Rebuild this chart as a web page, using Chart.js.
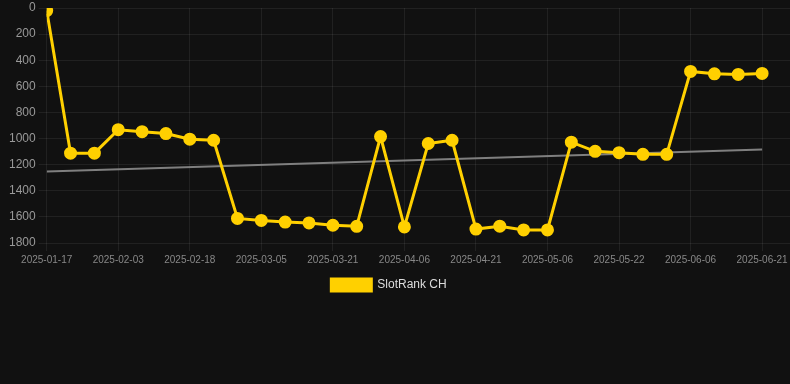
<!DOCTYPE html>
<html><head><meta charset="utf-8">
<script src="https://cdn.jsdelivr.net/npm/chart.js@4"></script>
<style>html,body{margin:0;padding:0;background:#111111;}#wrap{width:790px;height:384px;position:relative;}</style>
</head><body><div id="wrap"><canvas id="c"></canvas></div>
<script>
const dates = ["2025-01-17","2025-01-22","2025-01-28","2025-02-03","2025-02-08","2025-02-13","2025-02-18","2025-02-23","2025-02-28","2025-03-05","2025-03-10","2025-03-16","2025-03-21","2025-03-26","2025-04-01","2025-04-06","2025-04-11","2025-04-16","2025-04-21","2025-04-26","2025-05-01","2025-05-06","2025-05-11","2025-05-17","2025-05-22","2025-05-27","2025-06-01","2025-06-06","2025-06-11","2025-06-16","2025-06-21"];
const ranks = [20,1112,1112,932,947,962,1005,1013,1612,1627,1640,1646,1664,1672,985,1677,1038,1013,1693,1671,1700,1700,1028,1098,1108,1121,1121,486,504,509,501];
const trendEnds = [1253,1084];
const yTicks = [0,200,400,600,800,1000,1200,1400,1600,1800];

const rankPts = ranks.map((v,i)=>({x:i,y:v}));
const trendPts = [{x:0,y:trendEnds[0]},{x:dates.length-1,y:trendEnds[1]}];

const legendShift = {
  id:'legendShift',
  afterLayout(chart){ const l = chart.legend; if (l) { l.left -= 9; l.right -= 9; } }
};

new Chart(document.getElementById('c'), {
  type:'line',
  data:{datasets:[
    {label:'SlotRank CH', data:rankPts, borderColor:'#FFD000', backgroundColor:'#FFD000', borderWidth:3, pointRadius:5, pointHoverRadius:5, pointBackgroundColor:'#FFD000', pointBorderColor:'#FFD000', tension:0},
    {label:'trend', data:trendPts, borderColor:'rgba(140,140,140,0.9)', borderWidth:2, pointRadius:0, tension:0}
  ]},
  plugins:[legendShift],
  options:{
    responsive:true, maintainAspectRatio:false, animation:false,
    layout:{autoPadding:false, padding:{left:6,right:0,top:0,bottom:83}},
    scales:{
      x:{type:'linear', min:0, max:31.17,
        grid:{color:'rgba(255,255,255,0.07)', tickLength:8},
        border:{display:false},
        afterBuildTicks:(s)=>{s.ticks=[];for(let i=0;i<dates.length;i+=3)s.ticks.push({value:i});},
        afterFit:(s)=>{s.paddingRight=0;},
        ticks:{color:'#888', font:{family:'Liberation Sans, Arial', size:10}, maxRotation:0, autoSkip:false,
          callback:(v)=>dates[v]||''}
      },
      y:{reverse:true, min:0, max:1800,
        grid:{color:'rgba(255,255,255,0.07)', tickLength:8},
        border:{display:false},
        afterBuildTicks:(s)=>{s.ticks=yTicks.map(v=>({value:v}));},
        afterFit:(s)=>{s.paddingTop=8;},
        ticks:{color:'#999', font:{family:'Liberation Sans, Arial', size:12}, callback:(v)=>String(v)}
      }
    },
    plugins:{
      legend:{position:'bottom', labels:{color:'#ddd', font:{family:'Liberation Sans, Arial', size:12}, boxWidth:40, boxHeight:12,
        filter:(it)=>it.text!=='trend'}},
      tooltip:{enabled:false}
    }
  }
});
</script></body></html>
